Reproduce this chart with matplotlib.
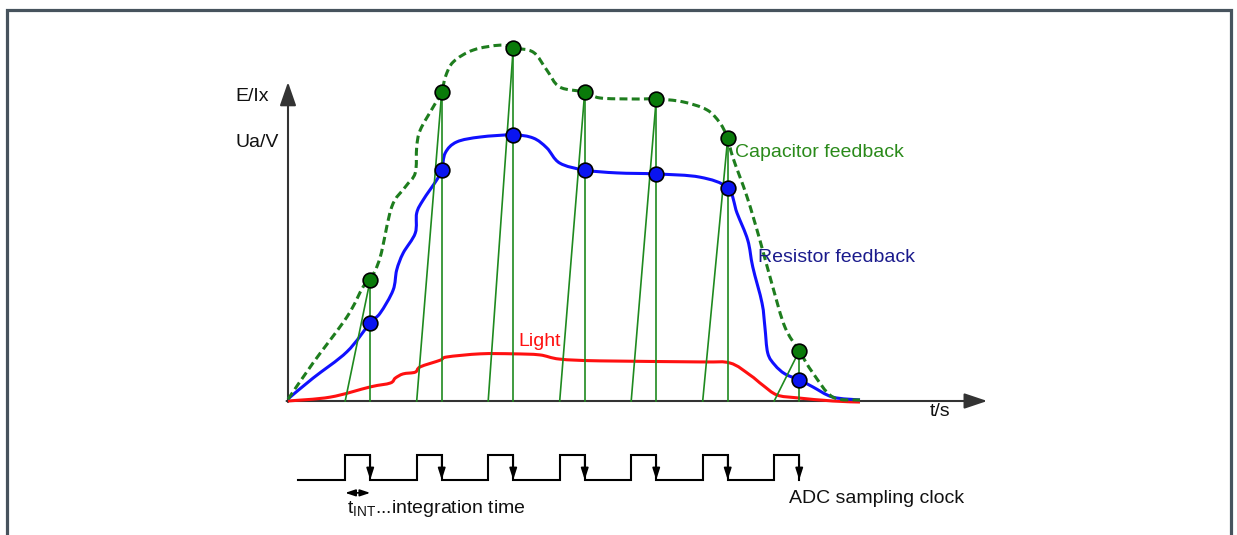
import numpy as np
import matplotlib
matplotlib.use('Agg')
import matplotlib.pyplot as plt
from matplotlib.path import Path
from matplotlib.patches import PathPatch

plt.rcParams['font.family'] = ['Liberation Sans', 'DejaVu Sans']
plt.rcParams['mathtext.fontset'] = 'custom'
plt.rcParams['mathtext.rm'] = 'Liberation Sans'
plt.rcParams['mathtext.it'] = 'Liberation Sans'

# time in ms, signal in % of the capacitor peak
light_t = [0, 5.9, 11.5, 14.3, 15.0, 16.1, 17.8, 18.5, 21.3, 22.2, 26.9, 31.5, 35.2,
           38.0, 43.6, 57.6, 61.8, 64.6, 66.4, 68.4, 71.2, 76.2, 80.0]
light_v = [0, 1.1, 4.0, 5.1, 6.5, 7.7, 8.2, 9.7, 11.6, 12.5, 13.4, 13.4, 13.1,
           11.9, 11.4, 11.1, 10.8, 7.4, 4.5, 1.7, 0.9, 0.0, -0.3]

res_t = [0, 3.5, 8.25, 11.5, 12.9, 14.7, 15.2, 16.1, 17.8, 18.0, 18.9, 20.8, 21.5,
         22.0, 23.6, 26.9, 31.5, 34.3, 36.2, 38.0, 41.5, 46.0, 51.5, 57.6, 61.5,
         62.8, 64.3, 65.0, 66.3, 66.7, 67.1, 68.1, 69.5, 71.5, 73.4, 76.2, 80.0]
res_v = [0.6, 6.5, 14.0, 22.2, 25.0, 31.5, 37.2, 42.0, 47.7, 53.4, 57.1, 62.8, 65.6,
         70.5, 73.6, 75.0, 75.6, 74.7, 71.9, 67.6, 65.6, 64.8, 64.5, 63.6, 60.5,
         53.4, 45.7, 38.1, 27.8, 21.0, 13.6, 10.2, 7.7, 6.0, 4.0, 1.1, 0.3]

cap_t = [0, 3.5, 8.25, 10.5, 11.5, 12.9, 14.5, 16.4, 17.8, 18.0, 18.5, 20.3, 21.5,
         22.0, 23.1, 25.9, 29.7, 31.5, 34.3, 36.2, 38.0, 41.5, 43.6, 48.3, 51.5,
         55.2, 58.6, 60.4, 61.5, 62.2, 64.2, 66.0, 67.8, 69.5, 71.5, 73.4, 76.2, 80.0]
cap_v = [0.5, 10.8, 23.9, 32.4, 34.4, 40.9, 55.1, 60.8, 64.8, 72.2, 77.0, 83.5, 87.8,
         92.0, 96.3, 99.7, 101.1, 100.3, 99.1, 94.0, 89.2, 87.8, 86.1, 85.8, 85.8,
         85.0, 82.7, 79.0, 74.7, 69.3, 58.0, 45.7, 32.4, 21.0, 14.2, 8.0, 1.1, 0.3]

sample_t = [11.5, 21.5, 31.5, 41.5, 51.5, 61.5, 71.5]
sample_cap = [34.4, 87.8, 100.3, 87.8, 85.8, 74.7, 14.2]
sample_res = [22.2, 65.6, 75.6, 65.6, 64.5, 60.5, 6.0]
t_int = 3.5

clk_start = 1.4
clk_low, clk_high = -22.4, -15.3


def smooth_curve(ax, xs, ys, **kw):
    # draw the read points joined by catmull-rom style bezier pieces
    p = np.column_stack([xs, ys]).astype(float)
    p = np.vstack([p[0], p, p[-1]])
    verts = [p[1]]
    codes = [Path.MOVETO]
    for i in range(1, len(p) - 2):
        c1 = p[i] + (p[i + 1] - p[i - 1]) / 6.0
        c2 = p[i + 1] - (p[i + 2] - p[i]) / 6.0
        verts += [c1, c2, p[i + 1]]
        codes += [Path.CURVE4] * 3
    patch = PathPatch(Path(verts, codes), fill=False, **kw)
    ax.add_patch(patch)
    return patch


W, H = 1237, 535
fig = plt.figure(figsize=(W / 100, H / 100), dpi=100)
ax = fig.add_axes([0, 0, 1, 1])
# pixel <-> data : px = 288 + 7.15 t ; py = 401 - 3.52 v
ax.set_xlim((0 - 288) / 7.15, (W - 288) / 7.15)
ax.set_ylim((401 - H) / 3.52, 401 / 3.52)
ax.axis('off')

# frame around the figure (bottom edge is cut off)
frame = '#47535d'
fx0, fx1, fy = 7.5 / W, 1230.5 / W, 1 - 9.5 / H
fig.add_artist(plt.Line2D([fx0, fx0, fx1, fx1], [0, fy, fy, 0], color=frame,
                          lw=2.3, transform=fig.transFigure, solid_joinstyle='miter'))

# axes with arrows
axc = '#333333'
ax.annotate('', xy=(0, 90.6), xytext=(0, -0.3),
            arrowprops=dict(arrowstyle='-|>,head_length=1.44,head_width=0.5',
                            mutation_scale=10, lw=1.5, color=axc, shrinkA=0, shrinkB=0))
ax.annotate('', xy=(97.8, 0), xytext=(-0.2, 0),
            arrowprops=dict(arrowstyle='-|>,head_length=1.4,head_width=0.47',
                            mutation_scale=10, lw=1.5, color=axc, shrinkA=0, shrinkB=0))

# curves
smooth_curve(ax, light_t, light_v, edgecolor='#ff1010', lw=2.2, zorder=3, joinstyle='round')
smooth_curve(ax, res_t, res_v, edgecolor='#1010ff', lw=2.2, zorder=3, joinstyle='round')
smooth_curve(ax, cap_t, cap_v, edgecolor='#1e7d1e', lw=2.2, zorder=3,
             linestyle=(0, (2.6, 1.4)))

# integration ramps and sample verticals
samp_c = '#1f8a1f'
for s, c in zip(sample_t, sample_cap):
    ax.plot([s - t_int, s], [0, c], color=samp_c, lw=1.2, zorder=4)
    ax.plot([s, s], [0, c], color=samp_c, lw=1.2, zorder=4)

ax.scatter(sample_t, sample_res, s=112, color='#0a14f0', edgecolor='black', lw=1.2, zorder=5)
ax.scatter(sample_t, sample_cap, s=112, color='#0a7a0a', edgecolor='black', lw=1.2, zorder=5)

# ADC clock
cx, cy = [clk_start], [clk_low]
for s in sample_t:
    cx += [s - t_int, s - t_int, s, s]
    cy += [clk_low, clk_high, clk_high, clk_low]
ax.plot(cx, cy, color='black', lw=1.5, solid_joinstyle='miter')
for s in sample_t:
    ax.annotate('', xy=(s, clk_low), xytext=(s, clk_high),
                arrowprops=dict(arrowstyle='-|>,head_length=1.4,head_width=0.45',
                                mutation_scale=5, lw=1.2, color='black',
                                shrinkA=0, shrinkB=0))

# t_INT double arrow
ax.annotate('', xy=(sample_t[0], -26.1), xytext=(sample_t[0] - t_int, -26.1),
            arrowprops=dict(arrowstyle='<|-|>,head_length=1.2,head_width=0.4',
                            mutation_scale=5, lw=1.2, color='black',
                            shrinkA=0, shrinkB=0))

fs = 14
ax.text(8.25, -31.8, r'$\mathrm{t_{INT}}$...integration time', fontsize=fs,
        ha='left', va='baseline', color='#111111')
ax.text(70.1, -27.6, 'ADC sampling clock', fontsize=fs, ha='left', va='center', color='#111111')
ax.text(-7.4, 86.4, 'E/Ix', fontsize=fs, ha='left', va='center', color='#111111')
ax.text(-7.4, 73.3, 'Ua/V', fontsize=fs, ha='left', va='center', color='#111111')
ax.text(89.7, -3.0, 't/s', fontsize=fs, ha='left', va='center', color='#111111')
ax.text(32.2, 17.0, 'Light', fontsize=fs, ha='left', va='center', color='#ff1010')
ax.text(62.5, 70.5, 'Capacitor feedback', fontsize=fs, ha='left', va='center', color='#2a8a1a')
ax.text(65.7, 40.9, 'Resistor feedback', fontsize=fs, ha='left', va='center', color='#1a1a8c')

fig.savefig('out.png', dpi=100, facecolor='white')
